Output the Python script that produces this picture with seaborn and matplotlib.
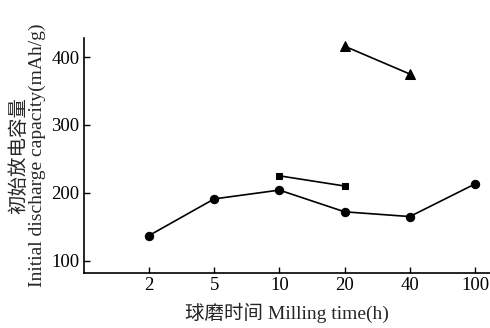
import matplotlib
matplotlib.use("Agg")
import matplotlib.pyplot as plt
import numpy as np
import pandas as pd
import seaborn as sns

# milling time categories (h), plotted at equal spacing
milling_time = ["2", "5", "10", "20", "40", "100"]

# initial discharge capacity (mAh/g)
circle_vals = [137, 191, 204, 172, 165, 213]
square_vals = [np.nan, np.nan, 225, 210, np.nan, np.nan]
triangle_vals = [np.nan, np.nan, np.nan, 416, 375, np.nan]

sns.set_style("ticks")
plt.rcParams['font.family'] = ['Liberation Serif', 'Noto Sans CJK SC']

pos = np.arange(len(milling_time))
df = pd.DataFrame({"pos": pos, "circle": circle_vals,
                   "square": square_vals, "triangle": triangle_vals})

fig = plt.figure(figsize=(4.9, 3.28), dpi=100, facecolor='white')
ax = fig.add_axes([0.171, 0.168, 0.829, 0.716])

for col, mk, ms in [("circle", "o", 6), ("square", "s", 5), ("triangle", "^", 7)]:
    d = df.dropna(subset=[col])
    sns.lineplot(data=d, x="pos", y=col, ax=ax, color="black", linewidth=1.2,
                 marker=mk, markersize=ms, markeredgecolor="black", legend=False)

ax.set_xlim(-1.0, 5.23)
ax.set_ylim(82, 428)
ax.set_xticks(pos)
ax.set_xticklabels(milling_time)
ax.set_yticks([100, 200, 300, 400])
ax.tick_params(direction="in", length=4, width=1, labelsize=13.5, colors="black", pad=3)
sns.despine(ax=ax)
for s in ["left", "bottom"]:
    ax.spines[s].set_linewidth(1.2)
    ax.spines[s].set_color("black")

ax.set_xlabel("球磨时间 Milling time(h)", fontsize=14, labelpad=6)
ax.set_ylabel("初始放电容量\nInitial discharge capacity(mAh/g)", fontsize=14,
              labelpad=4, linespacing=1.05)

fig.savefig("out.png", dpi=100)
plt.close()
